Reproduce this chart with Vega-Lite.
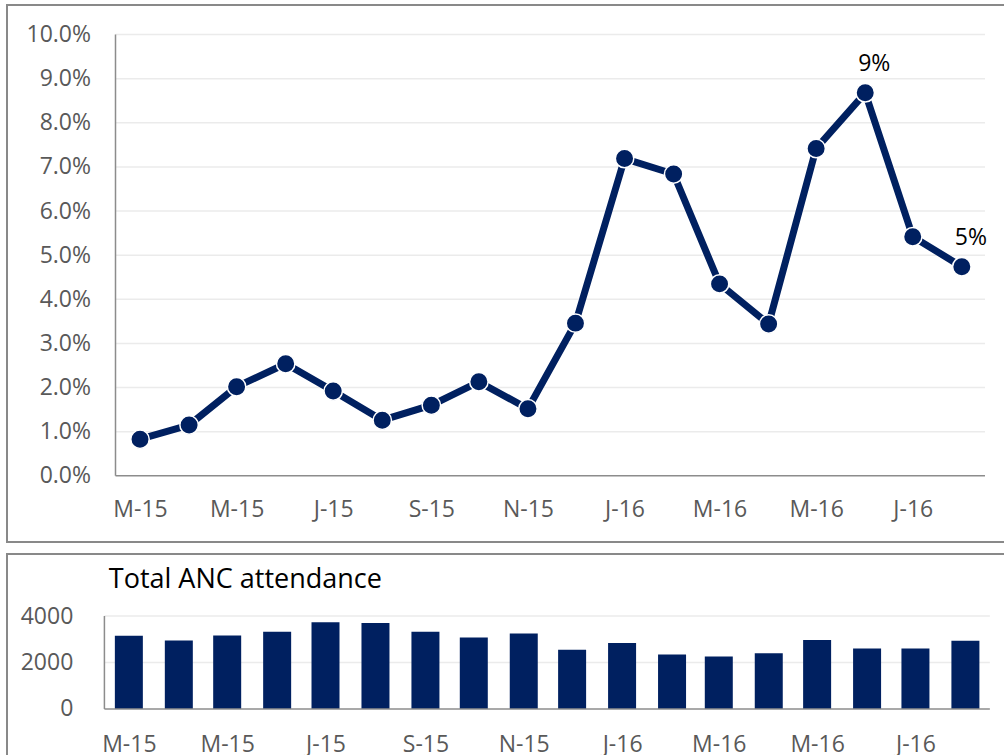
{
  "$schema": "https://vega.github.io/schema/vega-lite/v6.json",
  "padding": {"left": 6, "top": 4, "right": 0, "bottom": 0},
  "background": "white",
  "spacing": 10,
  "config": {
    "font": "Open Sans",
    "view": {"stroke": "#898989", "strokeWidth": 2},
    "axis": {
      "labelFont": "Open Sans",
      "labelFontSize": 23,
      "labelColor": "#595959",
      "domain": false,
      "ticks": false,
      "grid": false,
      "title": null,
      "labelOverlap": false,
      "labelFlush": false
    }
  },
  "datasets": {
    "monthly": [
      {"month": "2015-03-01", "rate": 0.0083, "anc": 3151, "dataLabel": false},
      {"month": "2015-04-01", "rate": 0.0115, "anc": 2950, "dataLabel": false},
      {"month": "2015-05-01", "rate": 0.0202, "anc": 3165, "dataLabel": false},
      {"month": "2015-06-01", "rate": 0.0254, "anc": 3324, "dataLabel": false},
      {"month": "2015-07-01", "rate": 0.0192, "anc": 3727, "dataLabel": false},
      {"month": "2015-08-01", "rate": 0.0126, "anc": 3698, "dataLabel": false},
      {"month": "2015-09-01", "rate": 0.0160, "anc": 3324, "dataLabel": false},
      {"month": "2015-10-01", "rate": 0.0213, "anc": 3079, "dataLabel": false},
      {"month": "2015-11-01", "rate": 0.0152, "anc": 3252, "dataLabel": false},
      {"month": "2015-12-01", "rate": 0.0346, "anc": 2547, "dataLabel": false},
      {"month": "2016-01-01", "rate": 0.0719, "anc": 2835, "dataLabel": false},
      {"month": "2016-02-01", "rate": 0.0684, "anc": 2345, "dataLabel": false},
      {"month": "2016-03-01", "rate": 0.0435, "anc": 2259, "dataLabel": false},
      {"month": "2016-04-01", "rate": 0.0344, "anc": 2403, "dataLabel": false},
      {"month": "2016-05-01", "rate": 0.0742, "anc": 2964, "dataLabel": false},
      {"month": "2016-06-01", "rate": 0.0868, "anc": 2604, "dataLabel": true},
      {"month": "2016-07-01", "rate": 0.0542, "anc": 2604, "dataLabel": false},
      {"month": "2016-08-01", "rate": 0.0474, "anc": 2935, "dataLabel": true}
    ]
  },
  "vconcat": [
    {
      "width": 1034,
      "height": 537,
      "data": {"name": "monthly"},
      "layer": [
        {
          "data": {"values": [{"g": 0.01}, {"g": 0.02}, {"g": 0.03}, {"g": 0.04}, {"g": 0.05}, {"g": 0.06}, {"g": 0.07}, {"g": 0.08}, {"g": 0.09}, {"g": 0.1}]},
          "mark": {"type": "rule", "color": "#ebebeb", "strokeWidth": 1.5},
          "encoding": {
            "y": {"field": "g", "type": "quantitative"},
            "x": {"datum": {"year": 2015, "month": 2, "date": 13, "hours": 12, "minutes": 30, "utc": true}, "type": "temporal"},
            "x2": {"datum": {"year": 2016, "month": 8, "date": 15, "hours": 15, "utc": true}}
          }
        },
        {
          "data": {"values": [{}]},
          "mark": {"type": "rule", "color": "#8c8c8c", "strokeWidth": 1.5},
          "encoding": {
            "y": {"datum": 0, "type": "quantitative"},
            "x": {"datum": {"year": 2015, "month": 2, "date": 13, "hours": 12, "minutes": 30, "utc": true}, "type": "temporal"},
            "x2": {"datum": {"year": 2016, "month": 8, "date": 15, "hours": 15, "utc": true}}
          }
        },
        {
          "data": {"values": [{}]},
          "mark": {"type": "rule", "color": "#8c8c8c", "strokeWidth": 1.5},
          "encoding": {
            "x": {"datum": {"year": 2015, "month": 2, "date": 13, "hours": 12, "minutes": 30, "utc": true}, "type": "temporal"},
            "y": {"datum": 0, "type": "quantitative"},
            "y2": {"datum": 0.1}
          }
        },
        {
          "mark": {"type": "line", "color": "#002060", "strokeWidth": 7},
          "encoding": {
            "x": {
              "field": "month",
              "type": "temporal",
              "scale": {
                "type": "utc",
                "domain": [
                  {"year": 2014, "month": 12, "date": 7, "utc": true},
                  {"year": 2016, "month": 9, "date": 20, "utc": true}
                ]
              },
              "axis": {
                "values": [
                  {"year": 2015, "month": 3, "date": 1, "utc": true},
                  {"year": 2015, "month": 5, "date": 1, "utc": true},
                  {"year": 2015, "month": 7, "date": 1, "utc": true},
                  {"year": 2015, "month": 9, "date": 1, "utc": true},
                  {"year": 2015, "month": 11, "date": 1, "utc": true},
                  {"year": 2016, "month": 1, "date": 1, "utc": true},
                  {"year": 2016, "month": 3, "date": 1, "utc": true},
                  {"year": 2016, "month": 5, "date": 1, "utc": true},
                  {"year": 2016, "month": 7, "date": 1, "utc": true}
                ],
                "labelExpr": "slice(utcFormat(datum.value, '%b'), 0, 1) + '-' + utcFormat(datum.value, '%y')",
                "offset": -66.2,
                "labelPadding": 34,
                "labelBaseline": "middle"
              }
            },
            "y": {
              "field": "rate",
              "type": "quantitative",
              "scale": {"domain": [-0.015005, 0.10671], "nice": false, "zero": false},
              "axis": {
                "values": [0, 0.01, 0.02, 0.03, 0.04, 0.05, 0.06, 0.07, 0.08, 0.09, 0.1],
                "format": ".1%",
                "offset": -108.5,
                "labelPadding": 25
              }
            }
          }
        },
        {
          "mark": {"type": "circle", "size": 340, "color": "#002060", "opacity": 1, "stroke": "white", "strokeWidth": 1.5},
          "encoding": {
            "x": {"field": "month", "type": "temporal"},
            "y": {"field": "rate", "type": "quantitative"}
          }
        },
        {
          "transform": [{"filter": "datum.dataLabel"}],
          "mark": {"type": "text", "fontSize": 23, "color": "#000000", "dx": 9, "dy": -29, "font": "Open Sans"},
          "encoding": {
            "x": {"field": "month", "type": "temporal"},
            "y": {"field": "rate", "type": "quantitative"},
            "text": {"field": "rate", "type": "quantitative", "format": ".0%"}
          }
        }
      ]
    },
    {
      "width": 1044,
      "height": 204,
      "data": {"name": "monthly"},
      "layer": [
        {
          "data": {"values": [{"g": 2000}, {"g": 4000}]},
          "mark": {"type": "rule", "color": "#ebebeb", "strokeWidth": 1.5},
          "encoding": {
            "y": {"field": "g", "type": "quantitative"},
            "x": {"datum": {"year": 2015, "month": 2, "date": 13, "hours": 20, "utc": true}, "type": "temporal"},
            "x2": {"datum": {"year": 2016, "month": 8, "date": 16, "hours": 4, "utc": true}}
          }
        },
        {
          "mark": {"type": "bar", "color": "#002060", "size": 28},
          "encoding": {
            "x": {
              "field": "month",
              "type": "temporal",
              "scale": {
                "type": "utc",
                "domain": [
                  {"year": 2014, "month": 12, "date": 18, "hours": 12, "utc": true},
                  {"year": 2016, "month": 9, "date": 20, "utc": true}
                ]
              },
              "axis": {
                "values": [
                  {"year": 2015, "month": 3, "date": 1, "utc": true},
                  {"year": 2015, "month": 5, "date": 1, "utc": true},
                  {"year": 2015, "month": 7, "date": 1, "utc": true},
                  {"year": 2015, "month": 9, "date": 1, "utc": true},
                  {"year": 2015, "month": 11, "date": 1, "utc": true},
                  {"year": 2016, "month": 1, "date": 1, "utc": true},
                  {"year": 2016, "month": 3, "date": 1, "utc": true},
                  {"year": 2016, "month": 5, "date": 1, "utc": true},
                  {"year": 2016, "month": 7, "date": 1, "utc": true}
                ],
                "labelExpr": "slice(utcFormat(datum.value, '%b'), 0, 1) + '-' + utcFormat(datum.value, '%y')",
                "offset": -49,
                "labelPadding": 35,
                "labelBaseline": "middle"
              }
            },
            "y": {
              "field": "anc",
              "type": "quantitative",
              "scale": {"domain": [-2108, 6667], "nice": false, "zero": false},
              "axis": {
                "values": [0, 2000, 4000],
                "format": "d",
                "offset": -93.3,
                "labelPadding": 27.5,
                "title": "Total ANC attendance",
                "titleAngle": 0,
                "titleX": 8,
                "titleY": 25,
                "titleAlign": "left",
                "titleBaseline": "middle",
                "titleFont": "Open Sans",
                "titleFontSize": 27,
                "titleFontWeight": "normal",
                "titleColor": "#000000"
              }
            },
            "y2": {"datum": 0}
          }
        },
        {
          "data": {"values": [{}]},
          "mark": {"type": "rule", "color": "#8c8c8c", "strokeWidth": 1.5},
          "encoding": {
            "y": {"datum": 0, "type": "quantitative"},
            "x": {"datum": {"year": 2015, "month": 2, "date": 13, "hours": 20, "utc": true}, "type": "temporal"},
            "x2": {"datum": {"year": 2016, "month": 8, "date": 16, "hours": 4, "utc": true}}
          }
        },
        {
          "data": {"values": [{}]},
          "mark": {"type": "rule", "color": "#8c8c8c", "strokeWidth": 1.5},
          "encoding": {
            "x": {"datum": {"year": 2015, "month": 2, "date": 13, "hours": 20, "utc": true}, "type": "temporal"},
            "y": {"datum": 0, "type": "quantitative"},
            "y2": {"datum": 4000}
          }
        }
      ]
    }
  ]
}
